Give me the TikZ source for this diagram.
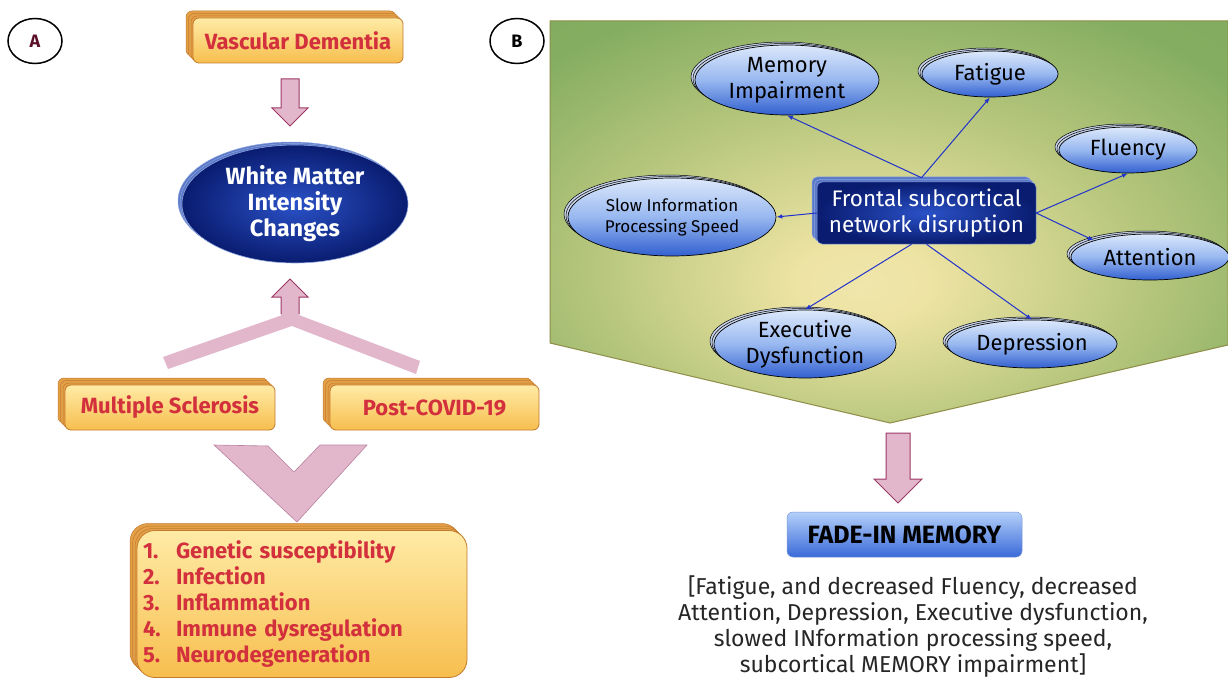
\documentclass[tikz,border=0pt]{standalone}
\usepackage{fontspec}
\setmainfont{Fira Sans}
\usetikzlibrary{arrows.meta,shapes.geometric,shadows,calc}
\newcommand\fsz[2]{\fontsize{#1pt}{#2pt}\selectfont}
\newcommand\numbox[1]{\makebox[33pt][l]{#1}}
\definecolor{otop}{HTML}{FFEBA6}
\definecolor{obot}{HTML}{F7BE4E}
\definecolor{oborder}{HTML}{C47A2C}
\definecolor{oshad}{HTML}{E3A048}
\definecolor{ored}{HTML}{D2303C}
\definecolor{pinkf}{HTML}{E2B6CB}
\definecolor{pinkd}{HTML}{9C3A66}
\definecolor{pinkv}{HTML}{B883A0}
\definecolor{btop}{HTML}{DCE8FB}
\definecolor{bmid}{HTML}{98B8F0}
\definecolor{bbot}{HTML}{3260D0}
\definecolor{bshad}{HTML}{C8D4EA}
\definecolor{dkin}{HTML}{2B52C8}
\definecolor{dkout}{HTML}{091C70}
\definecolor{dkshad}{HTML}{5A78C8}
\definecolor{dkline}{HTML}{8FA6E0}
\definecolor{edgeblue}{HTML}{2233CC}
\definecolor{olive}{HTML}{8E8C46}
\definecolor{fadetop}{HTML}{B4D0FA}
\definecolor{fadebot}{HTML}{3A6AD8}
\definecolor{fadeline}{HTML}{7C98D8}
\definecolor{txtgray}{HTML}{262626}
\definecolor{amaroon}{HTML}{5A1028}
\pgfdeclareradialshading{greenglow}{\pgfpoint{-2bp}{-8bp}}{rgb(0bp)=(0.94,0.90,0.67); rgb(5bp)=(0.93,0.89,0.64); rgb(20bp)=(0.72,0.78,0.49); rgb(34bp)=(0.52,0.68,0.38); rgb(75bp)=(0.44,0.62,0.33)}
\begin{document}
\begin{tikzpicture}[x=1pt,y=-1pt,
  obox/.style={rectangle,rounded corners=6pt,draw=oborder,line width=.8pt,
    top color=otop,bottom color=obot,text=ored,font=\bfseries\fsz{22}{26},inner sep=0pt,
    general shadow={fill=oshad,draw=oborder,line width=.5pt,shadow xshift=-7pt,shadow yshift=7pt},
    general shadow={fill=oshad,draw=oborder,line width=.5pt,shadow xshift=-4.5pt,shadow yshift=4.5pt},
    general shadow={fill=oshad,draw=oborder,line width=.5pt,shadow xshift=-2pt,shadow yshift=2pt}},
  bell/.style={ellipse,draw=black,line width=.7pt,top color=btop,bottom color=bbot,middle color=bmid,
    inner sep=0pt,align=center,font=\fsz{22}{26},text=black,
    general shadow={fill=bshad,draw=black,line width=.5pt,shadow xshift=-4pt,shadow yshift=3pt},
    general shadow={fill=bshad,draw=black,line width=.5pt,shadow xshift=-2pt,shadow yshift=1.5pt}},
  wmell/.style={ellipse,draw=dkline,line width=.6pt,inner color=dkin,outer color=dkout,
    inner sep=0pt,align=center,text=white,font=\bfseries\fsz{23.5}{26},
    general shadow={fill=dkshad,draw=dkline,line width=.5pt,shadow xshift=-4pt,shadow yshift=3pt},
    general shadow={fill=dkshad,draw=dkline,line width=.5pt,shadow xshift=-2pt,shadow yshift=1.5pt}},
  fsbox/.style={rectangle,rounded corners=5pt,draw=dkline,line width=.5pt,inner color=dkin,outer color=dkout,
    inner sep=0pt,align=center,text=white,font=\fsz{22.5}{26},
    general shadow={fill=dkshad,draw=dkline,line width=.5pt,shadow xshift=-5pt,shadow yshift=5pt},
    general shadow={fill=dkshad,draw=dkline,line width=.5pt,shadow xshift=-2.5pt,shadow yshift=2.5pt}},
  fade/.style={rectangle,rounded corners=6pt,draw=fadeline,line width=.5pt,top color=fadetop,bottom color=fadebot,
    inner sep=0pt,font=\bfseries\fsz{25}{28},text=black},
  circ/.style={ellipse,draw=black,line width=1.5pt,minimum width=54pt,minimum height=45pt,inner sep=0pt,
    font=\bfseries\fsz{18}{20}},
  conn/.style={draw=edgeblue,line width=1pt,-{Latex[length=6pt,width=4.5pt]}},
  parrow/.style={fill=pinkf,draw=pinkd,line width=1pt,line join=miter}
]
\useasboundingbox (0,0) rectangle (1228,679);
\fill[white] (0,0) rectangle (1228,679);

% ---------- panel B background ----------
\shadedraw[shading=greenglow,draw=olive,line width=1pt]
  (550,21) -- (1228,21) -- (1228,345) -- (890,423) -- (550,343) -- cycle;

% ---------- panel A ----------
\node[circ,text=amaroon] (la) at (35,41) {A};
\node[circ,text=black] (lb) at (517,41) {B};

\node[obox,minimum width=210pt,minimum height=45pt] (vd) at (298,40.5) {Vascular Dementia};
\node[wmell,minimum width=226pt,minimum height=118pt] (wm) at (295,204) {White Matter\\Intensity\\Changes};
\node[obox,minimum width=210pt,minimum height=45pt] (ms) at (170,407.5) {Multiple Sclerosis};
\node[obox,minimum width=209pt,minimum height=45pt] (pc) at (434.5,407.5) {Post-COVID-19};
\node[obox,rounded corners=18pt,minimum width=330pt,minimum height=147pt,text width=318pt,align=left,
  font=\bfseries\fsz{22}{26}] (list) at (302,604)
  {\numbox{1.}Genetic susceptibility\\\numbox{2.}Infection\\\numbox{3.}Inflammation\\\numbox{4.}Immune dysregulation\\\numbox{5.}Neurodegeneration};

% block arrows
\draw[parrow] (281,79) -- (299,79) -- (299,108) -- (308,108) -- (290,126) -- (272,108) -- (281,108) -- cycle;
\fill[pinkf] (163,357) -- (291,312) -- (420,361) -- (416,374) -- (292,326) -- (168,369) -- cycle;
\fill[pinkf] (281,316) -- (281,297) -- (272,297) -- (290,279) -- (308,297) -- (299,297) -- (299,316) -- cycle;
\draw[draw=pinkd,line width=1pt,line join=miter] (281,314) -- (281,297) -- (272,297) -- (290,279) -- (308,297) -- (299,297) -- (299,314);
\draw[fill=pinkf,draw=pinkv,line width=.6pt] (214,445) -- (268,446) -- (294,472) -- (320,445) -- (367,445) -- (297,522) -- cycle;

% ---------- panel B ----------
\node[fsbox,minimum width=219pt,minimum height=62pt] (fsn) at (926.5,213) {Frontal subcortical\\network disruption};
\node[bell,minimum width=184pt,minimum height=70pt] (mem) at (787,80) {Memory\\Impairment};
\node[bell,minimum width=136pt,minimum height=46pt] (fat) at (990,74) {Fatigue};
\node[bell,minimum width=138pt,minimum height=46pt] (flu) at (1128,150) {Fluency};
\node[bell,minimum width=158pt,minimum height=46pt] (att) at (1150,257) {Attention};
\node[bell,minimum width=208pt,minimum height=78pt,font=\fsz{17}{21}] (slow) at (672,217) {Slow Information\\Processing Speed};
\node[bell,minimum width=182pt,minimum height=68pt] (exe) at (805,344) {Executive\\Dysfunction};
\node[bell,minimum width=170pt,minimum height=48pt] (dep) at (1032,344) {Depression};

\draw[conn] ($(fsn.north)+(-5,-4)$) -- (mem.south);
\draw[conn] ($(fsn.north)+(-5,-4)$) -- (fat.south);
\draw[conn] (fsn.east) -- (flu.south);
\draw[conn] (fsn.east) -- (att.north west);
\draw[conn] (fsn.west) -- (slow.east);
\draw[conn] ($(fsn.south)+(-15,0)$) -- (exe.north);
\draw[conn] (fsn.south) -- (dep.north);

\draw[parrow] (886,433) -- (910,433) -- (910,479) -- (922,479) -- (898,503) -- (874,479) -- (886,479) -- cycle;

\node[fade,minimum width=235pt,minimum height=45pt] (fim) at (904.5,534.5) {FADE-IN MEMORY};
\node[align=center,font=\fsz{23}{26},text=txtgray] (fimtxt) at (913,627)
  {[Fatigue, and decreased Fluency, decreased\\Attention, Depression, Executive dysfunction,\\slowed INformation processing speed,\\subcortical MEMORY impairment]};
\end{tikzpicture}
\end{document}
